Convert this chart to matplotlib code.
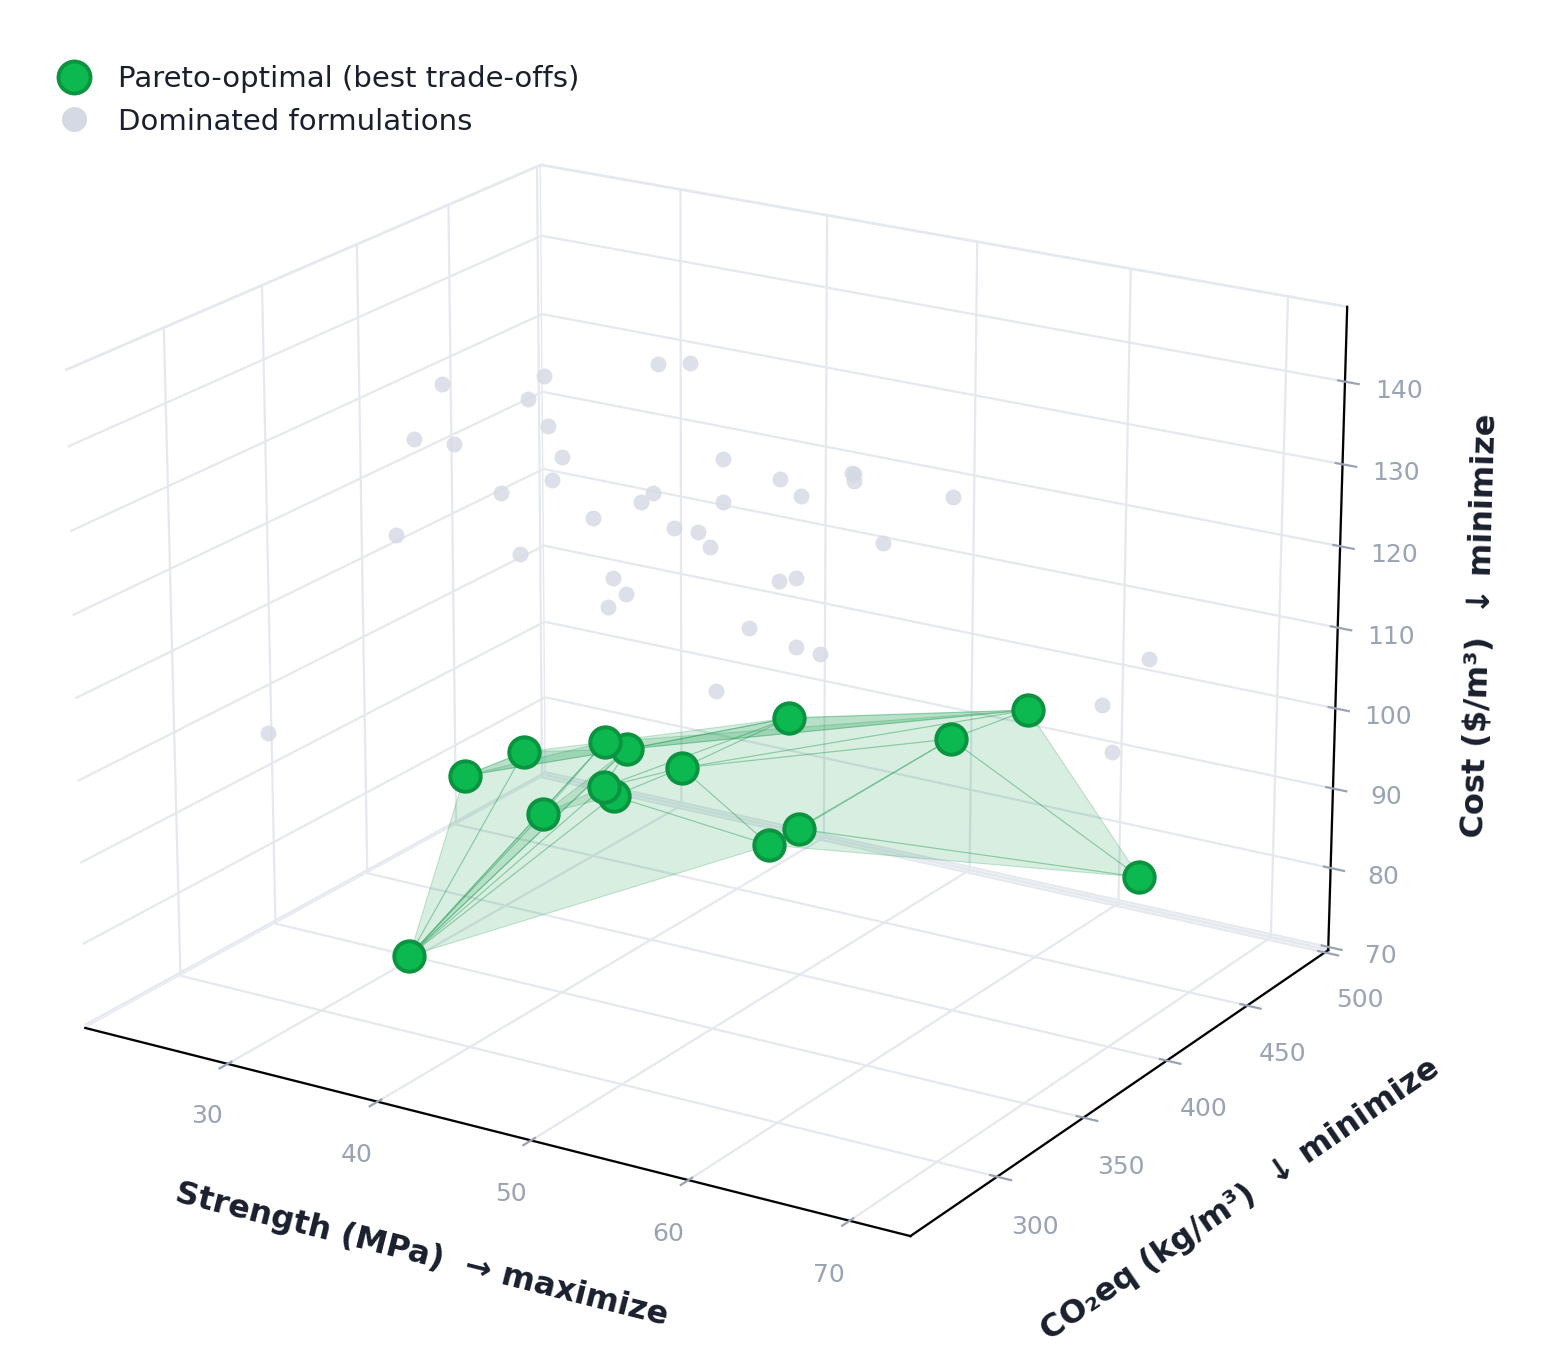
import matplotlib
matplotlib.use("Agg")
import matplotlib.pyplot as plt
from matplotlib.lines import Line2D

# pareto-optimal mixes
pareto_strength = [35.3, 36.5, 35.8, 37.4, 37.7, 33.7, 35.7, 35.6, 40.6, 49.7, 54.5, 68.8, 47.4, 44.7, 68.1]
pareto_co2 = [305.7, 326.6, 364.3, 396.1, 406.2, 391.3, 409.2, 415.8, 412.8, 396.0, 448.0, 360.1, 421.9, 428.3, 435.9]
pareto_cost = [78, 98, 96, 94, 92, 84, 86, 84, 90, 102, 95, 115, 84, 80, 85]

# dominated mixes
dom_strength = [27.1, 26.1, 28.8, 26.2, 35.3, 30.2, 44.7, 26.1, 35.3, 40.4, 31.4, 44.8, 26.2, 42.9, 33.0, 50.8, 40.9, 32.9, 43.6, 40.3, 45.0,
                39.6, 49.0, 36.2, 53.1, 44.8, 59.2, 43.1, 50.8, 56.4, 47.4, 59.9, 42.2, 58.7, 49.2, 63.2, 56.7, 53.1, 71.8, 68.9, 71.7]
dom_co2 = [297.3, 373.7, 362.7, 398.3, 332.4, 398.2, 291.4, 446.7, 380.9, 341.2, 416.8, 312.9, 482.7, 352.4, 437.7, 296.9, 387.8, 461.5, 374.5, 411.0, 380.2,
           430.9, 357.4, 470.3, 329.2, 400.6, 290.9, 447.7, 380.1, 340.5, 420.0, 312.7, 479.8, 351.0, 437.4, 312.1, 387.0, 460.9, 375.0, 409.5, 403.7]
dom_cost = [103, 118, 132, 134, 137, 122, 132, 127, 140, 140, 122, 141, 108, 118, 108, 129, 126, 116, 145, 120, 145,
            117, 127, 91, 142, 126, 129, 123, 121, 128, 107, 142, 97, 140, 127, 145, 127, 123, 115, 104, 117]

# surface facets over the pareto mixes
facets = [(0, 1, 2), (0, 2, 3), (0, 3, 4), (0, 5, 4), (0, 3, 5), (0, 4, 6), (0, 6, 7), (0, 7, 13), (1, 2, 4), (1, 3, 4), (5, 6, 7),
          (3, 4, 9), (4, 6, 9), (6, 7, 8), (6, 8, 9), (7, 8, 13), (8, 9, 11), (4, 9, 11), (3, 4, 11),
          (8, 10, 11), (8, 10, 13), (10, 12, 13), (10, 11, 14), (10, 12, 14), (12, 13, 14)]

x_ticks = [30, 40, 50, 60, 70]
y_ticks = [300, 350, 400, 450, 500]
z_ticks = [70, 80, 90, 100, 110, 120, 130, 140]

GREEN = "#0cb850"
GREEN_EDGE = "#0a9440"
GREY = "#d5d9e3"
TICK = "#9aa3b5"
INK = "#1a1f2e"
LINE = "#e5e8ef"

W, H = 1550, 1362
plt.rcParams["grid.color"] = LINE
plt.rcParams["grid.linewidth"] = 0.8

fig = plt.figure(figsize=(W / 200, H / 200), dpi=200)
size = 1411.494
ax = fig.add_axes([(695.498 - size / 2) / W, (H - 687.408 - size / 2) / H, size / W, size / H],
                  projection="3d", computed_zorder=False)
ax.view_init(19.907, -58.045)
ax.set_box_aspect((1, 0.879, 0.72))

ax.plot_trisurf(pareto_strength, pareto_co2, pareto_cost, triangles=facets,
                color=(0.086, 0.6, 0.3, 0.165), edgecolor=(0.086, 0.6, 0.3, 0.24),
                linewidth=0.4, shade=False, zorder=2)
ax.scatter(dom_strength, dom_co2, dom_cost, s=33, color=GREY, alpha=0.8, linewidths=0, depthshade=False, zorder=1)
ax.scatter(pareto_strength, pareto_co2, pareto_cost, s=120, color=GREEN, edgecolors=GREEN_EDGE, linewidths=1.4,
           depthshade=False, zorder=3)

ax.set_xlim(20.281, 73.709, view_margin=0)
ax.set_ylim(251.573, 502.231, view_margin=0)
ax.set_zlim(69.596, 148.989, view_margin=0)
ax.set_xticks(x_ticks)
ax.set_yticks(y_ticks)
ax.set_zticks(z_ticks)

for axis in (ax.xaxis, ax.yaxis, ax.zaxis):
    axis.set_pane_color((1, 1, 1, 1))
    axis.pane.set_edgecolor(LINE)
    axis.pane.set_linewidth(1.0)
ax.tick_params(axis="both", colors=TICK, labelsize=9)
ax.tick_params(axis="z", colors=TICK, labelsize=9)

ax.set_xlabel("Strength (MPa)  → maximize", fontsize=11.5, fontweight="bold", color=INK, labelpad=14)
ax.set_ylabel("CO₂eq (kg/m³)  ↓ minimize", fontsize=11.5, fontweight="bold", color=INK, labelpad=14)
ax.set_zlabel("Cost ($/m³)  ↓ minimize", fontsize=11.5, fontweight="bold", color=INK, labelpad=10)

handles = [
    Line2D([], [], linestyle="none", marker="o", markersize=11.5, markerfacecolor=GREEN, markeredgecolor=GREEN_EDGE,
           markeredgewidth=1.4, label="Pareto-optimal (best trade-offs)"),
    Line2D([], [], linestyle="none", marker="o", markersize=9, markerfacecolor=GREY, markeredgewidth=0,
           label="Dominated formulations"),
]
fig.legend(handles=handles, loc="upper left", bbox_to_anchor=(59.5 / W, 1 - 65 / H), frameon=False, fontsize=10.5,
           labelcolor=INK, borderpad=0, borderaxespad=0, handlelength=1.0, handletextpad=1.0, labelspacing=0.5)

fig.savefig("out.png", dpi=200)
